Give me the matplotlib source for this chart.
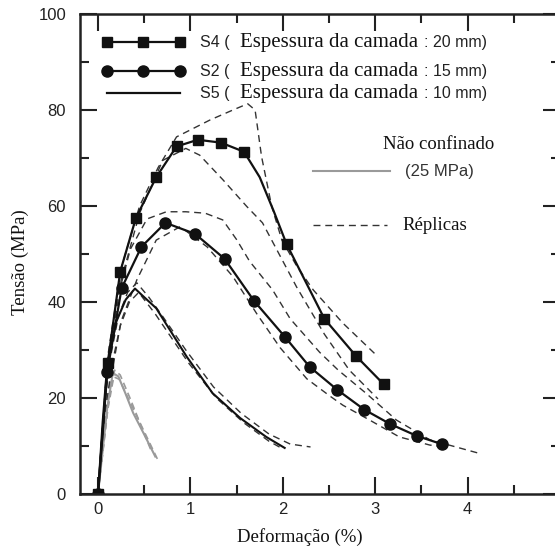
import numpy as np
import matplotlib
matplotlib.use("Agg")
import matplotlib.pyplot as plt
from matplotlib.ticker import MultipleLocator

# S4 - 20 mm layer (square markers)
s4_x = [0, 0.105, 0.24, 0.41, 0.63, 0.85, 1.08, 1.33, 1.58, 1.75, 1.90, 2.04, 2.45, 2.79, 3.09]
s4_y = [0, 27.3, 46.3, 57.5, 66.0, 72.4, 73.8, 73.2, 71.3, 66.0, 59.0, 52.1, 36.5, 28.8, 22.9]
s4_marks = [0, 1, 2, 3, 4, 5, 6, 7, 8, 11, 12, 13, 14]

# S2 - 15 mm layer (circle markers)
s2_x = [0, 0.10, 0.256, 0.47, 0.73, 1.05, 1.37, 1.69, 2.02, 2.29, 2.59, 2.88, 3.16, 3.45, 3.72]
s2_y = [0, 25.5, 42.9, 51.5, 56.5, 54.2, 49.0, 40.2, 32.8, 26.5, 21.7, 17.6, 14.6, 12.1, 10.4]

# S5 - 10 mm layer (plain line)
s5_x = [0, 0.05, 0.10, 0.20, 0.30, 0.40, 0.50, 0.63, 0.80, 0.96, 1.24, 1.54, 1.82, 2.02]
s5_y = [0, 15.0, 27.0, 36.0, 40.5, 42.8, 41.0, 38.7, 33.5, 28.6, 21.0, 15.8, 11.9, 9.6]

# unconfined concrete (25 MPa)
unc_x = [0, 0.05, 0.10, 0.16, 0.22, 0.30, 0.38, 0.50, 0.62]
unc_y = [0, 9.0, 18.0, 25.2, 24.5, 20.8, 16.9, 12.4, 7.8]

# replicas
rep4a_x = [0, 0.10, 0.25, 0.45, 0.65, 0.85, 1.21, 1.46, 1.62, 1.70, 1.77, 1.88, 1.99, 2.15, 2.33, 2.65, 3.03]
rep4a_y = [0, 28.0, 47.0, 60.0, 68.0, 74.4, 77.9, 80.0, 81.3, 80.0, 70.3, 59.9, 52.9, 47.5, 42.5, 35.6, 28.6]
rep4b_x = [0, 0.10, 0.25, 0.45, 0.70, 0.95, 1.10, 1.35, 1.61, 1.78, 2.15, 2.45, 2.72, 3.03]
rep4b_y = [0, 26.0, 44.5, 58.5, 69.5, 72.0, 70.6, 65.5, 59.9, 56.5, 43.1, 33.3, 25.8, 19.8]

rep2a_x = [0, 0.08, 0.20, 0.35, 0.53, 0.74, 0.95, 1.16, 1.35, 1.50, 1.64, 1.89, 2.08, 2.40, 2.60, 2.90, 3.23, 3.59, 4.12]
rep2a_y = [0, 22.0, 40.0, 51.0, 57.3, 58.8, 58.8, 58.5, 57.1, 53.0, 48.5, 42.5, 36.5, 29.5, 25.8, 21.0, 15.4, 11.3, 8.5]
rep2b_x = [0, 0.10, 0.25, 0.42, 0.63, 0.89, 1.18, 1.46, 1.72, 1.97, 2.26, 2.51, 2.65, 2.94, 3.26, 3.59, 3.75]
rep2b_y = [0, 20.0, 36.0, 44.6, 52.9, 55.7, 51.5, 45.3, 37.5, 30.5, 24.0, 20.4, 18.5, 15.4, 11.9, 10.2, 9.8]

rep5a_x = [0, 0.05, 0.12, 0.22, 0.32, 0.42, 0.55, 0.70, 0.95, 1.25, 1.55, 1.85, 2.08, 2.30]
rep5a_y = [0, 14.0, 27.0, 37.0, 42.0, 44.0, 41.0, 37.0, 30.0, 22.3, 16.8, 12.5, 10.4, 9.8]
rep5b_x = [0, 0.06, 0.14, 0.24, 0.34, 0.44, 0.62, 0.98, 1.28, 1.58, 1.85, 2.00]
rep5b_y = [0, 13.0, 26.0, 35.0, 40.0, 42.0, 37.5, 27.3, 20.0, 14.8, 11.0, 9.4]

repu_a_x = [0, 0.06, 0.12, 0.18, 0.24, 0.35, 0.47, 0.58]
repu_a_y = [0, 10.0, 20.0, 25.8, 24.8, 19.8, 14.0, 8.8]
repu_b_x = [0, 0.05, 0.10, 0.17, 0.23, 0.33, 0.46, 0.65]
repu_b_y = [0, 8.5, 17.0, 24.4, 23.9, 19.8, 14.6, 7.0]

legend_labels = ["S4 (", "S2 (", "S5 ("]
legend_mm = [": 20 mm)", ": 15 mm)", ": 10 mm)"]

sans = "Liberation Sans"
serif = "Liberation Serif"
gray = "#9a9a9a"

fig = plt.figure(figsize=[5.55, 5.54], dpi=100)
ax = fig.add_axes([80/555, 60/554, 480/555, 480/554])

dash = dict(color="#333333", linewidth=1.0, linestyle=(0, (5, 3.5)))
for rx, ry in [(rep4a_x, rep4a_y), (rep4b_x, rep4b_y), (rep2a_x, rep2a_y),
               (rep2b_x, rep2b_y), (rep5a_x, rep5a_y), (rep5b_x, rep5b_y)]:
	ax.plot(rx, ry, **dash)
for rx, ry in [(repu_a_x, repu_a_y), (repu_b_x, repu_b_y)]:
	ax.plot(rx, ry, color=gray, linewidth=1.2, linestyle=(0, (4, 2.5)))

ax.plot(unc_x, unc_y, color=gray, linewidth=1.5)
ax.plot(s5_x, s5_y, color="#111111", linewidth=1.5)
ax.plot(s2_x, s2_y, color="#111111", linewidth=1.6, marker="o", markersize=8)
ax.plot(s4_x, s4_y, color="#111111", linewidth=1.6, marker="s", markersize=7.5,
        markevery=s4_marks)

ax.set_xlim(-0.195, 5.0)
ax.set_ylim(0, 100)
ax.xaxis.set_major_locator(MultipleLocator(1))
ax.xaxis.set_minor_locator(MultipleLocator(0.5))
ax.yaxis.set_major_locator(MultipleLocator(20))
ax.yaxis.set_minor_locator(MultipleLocator(10))
ax.tick_params(which="both", direction="in", top=True, right=True, width=1.5, color="#222222")
ax.tick_params(which="major", length=12, labelsize=12, labelcolor="#222222")
ax.tick_params(which="minor", length=6.5)
ax.tick_params(axis="y", pad=10)
ax.tick_params(axis="x", pad=6)
for lab in ax.get_xticklabels() + ax.get_yticklabels():
	lab.set_fontfamily(sans)
for sp in ax.spines.values():
	sp.set_linewidth(1.8)
	sp.set_color("#222222")

# legend, written by hand
ly = [0.9415, 0.881, 0.835]
styles = [dict(marker="s", markersize=7.5), dict(marker="o", markersize=8), dict()]
for i in range(3):
	ax.plot([0.056, 0.132, 0.208], [ly[i]] * 3, transform=ax.transAxes, color="#111111",
	        linewidth=1.6, clip_on=False, **styles[i])
	ax.text(0.25, ly[i], legend_labels[i], transform=ax.transAxes, fontsize=11.5,
	        family=sans, va="center", color="#222222")
	ax.text(0.333, ly[i], "Espessura da camada", transform=ax.transAxes, fontsize=15,
	        family=serif, va="center", color="#111111")
	ax.text(0.717, ly[i], legend_mm[i], transform=ax.transAxes, fontsize=11.5,
	        family=sans, va="center", color="#222222")

ax.text(0.631, 0.729, "Não confinado", transform=ax.transAxes, fontsize=13.5,
        family=serif, va="center", color="#111111")
ax.plot([0.485, 0.646], [0.672, 0.672], transform=ax.transAxes, color=gray, linewidth=1.5)
ax.text(0.677, 0.672, "(25 MPa)", transform=ax.transAxes, fontsize=12,
        family=sans, va="center", color="#333333")
ax.plot([0.485, 0.640], [0.5595, 0.5595], transform=ax.transAxes, **dash)
ax.text(0.671, 0.5595, "Réplicas", transform=ax.transAxes, fontsize=13.5,
        family=serif, va="center", color="#111111")

fig.text(300/555, 1 - 537/554, "Deformação (%)", fontsize=13.5, family=serif,
         ha="center", va="center", color="#111111")
fig.text(20/555, 1 - 262/554, "Tensão (MPa)", fontsize=13.5, family=serif,
         ha="center", va="center", rotation=90, color="#111111")

fig.savefig("out.png", dpi=100)
